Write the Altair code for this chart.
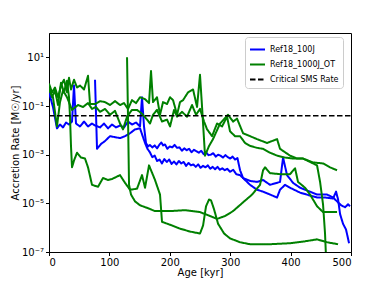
import altair as alt
import pandas as pd

# ---- data (age in kyr, log10 of accretion rate in Msun/yr) ----
b1_age = [0, 6.6, 13.2, 18.2, 23.2, 28.2, 33.1, 38.1, 41.4, 44.7, 51.3, 58, 64.6, 71.2, 76.2, 84.5, 91.1, 97.7,
          104.3, 111, 117.6, 124.2, 130.8, 137.4, 144.1, 150.7, 154, 157.3,
          160.6, 164, 167, 171, 175, 179, 183, 186, 189, 192, 196, 200, 204, 208, 212, 216, 220, 224, 228, 232,
          236, 240, 244, 248, 252, 256, 260, 264, 268, 272, 276, 280, 284, 288, 292, 296, 300, 304, 308, 312,
          316.3, 321.3, 332.9, 344.4, 354.4, 366, 382.5, 387.5, 394.1, 404.1, 415.7, 432.2, 443.8, 460.4, 470.3,
          476.9, 483.6, 490.2, 495.1, 498.4]
b1_log = [-0.44, -1.04, -1.92, -1.76, -1.88, -1.68, -1.76, -1.64, -0.16, -1.72, -1.84, -1.64, -1.84, -1.72, -1.8,
          -1.88, -1.72, -1.92, -1.76, -1.88, -1.8, -1.88, -1.64, -1.76, -1.68, -1.84, -0.64, -1.84,
          -2.52, -2.66, -2.6, -2.7, -2.62, -2.74, -2.58, -2.5, -2.62, -2.58, -2.76, -2.66, -2.7, -2.6, -2.72, -2.7,
          -2.84, -2.74, -2.82, -2.76, -2.9, -2.8, -2.86, -2.92, -2.84, -2.98, -2.9, -3.02, -3.0, -2.94, -3.08, -3.0,
          -3.04, -3.12, -3.02, -3.1, -3.16, -3.08, -3.2, -3.14,
          -3.64, -3.96, -4.08, -4.12, -4.04, -4.24, -4.12, -3.12, -3.84, -4.16, -4.36, -4.52, -4.64, -4.64, -4.76,
          -4.92, -5.08, -5.16, -5.04, -5.12]

b2_age = [76.2, 79.5, 86.1, 92.7, 101, 109.3, 117.6, 125.9, 134.1, 142.4, 150.7, 159,
          163, 167, 171, 175, 179, 183, 187, 191, 195, 199, 203, 207, 211, 215, 219, 223, 227, 231, 235, 239,
          243, 247, 251, 255, 259, 263, 267, 271, 275, 279, 283, 287, 291, 295, 299.7, 305, 310,
          316.3, 324.6, 332.9, 344.4, 354.4, 366, 377.6, 382.5, 390.8, 399.1, 415.7, 432.2, 443.8, 457, 470.3,
          475.3, 478.6, 481.9, 486.8, 491.8, 496.8]
b2_log = [0.08, -2.76, -2.56, -2.44, -2.24, -2.28, -2.32, -2.24, -2.12, -1.96, -1.92, -2.52,
          -2.76, -2.9, -3.1, -3.04, -3.26, -3.2, -3.36, -3.18, -3.3, -3.2, -3.38, -3.28, -3.4, -3.26, -3.36, -3.3,
          -3.46, -3.34, -3.44, -3.4, -3.5, -3.4, -3.54, -3.46, -3.52, -3.44, -3.58, -3.5, -3.6, -3.5, -3.62, -3.56,
          -3.64, -3.58, -3.7, -3.62, -3.8,
          -3.84, -4.04, -4.24, -4.44, -4.52, -4.64, -4.76, -4.44, -4.24, -4.36, -4.56, -4.68, -4.76, -4.76, -4.8,
          -4.52, -4.84, -5.44, -5.84, -6.08, -6.64]

g1_age = [0, 5, 9.9, 14.9, 19.9, 24.8, 29.8, 33.1, 36.4, 41.4, 46.4, 51.3, 58, 64.6, 67.9, 76.2, 84.5, 92.7, 101,
          109.3, 117.6, 124.2, 130.8, 137.4, 144.1, 150.7, 159, 165.6, 168.9, 172.2, 178.8, 183.8, 188.8, 195.4,
          200.4, 205.4, 212, 216.9, 221.9, 230.2, 238.5, 245.1, 250, 253.4, 258.3, 265, 271.6, 283.2, 296.4, 304.7,
          311.3, 321.3, 332.9, 344.4, 361, 377.6, 382.5, 399.1, 410.7, 420.6, 437.2, 453.7, 465.3, 476.9]
g1_log = [-0.08, -0.44, -0.24, -0.64, -0.16, 0.08, -0.44, 0.16, -0.32, 0.08, -0.24, -0.16, -0.32, 0.24, -0.92,
          -0.92, -0.8, -0.84, -0.96, -0.8, -0.96, -0.88, -1.12, -0.76, -0.88, -0.64, -0.72, -0.88, 0.44, -0.84,
          -0.64, -1.36, -0.84, -0.92, -0.64, -0.76, -1.36, -0.84, -0.76, -0.44, -0.32, -1.04, 0.28, -1.04, -3.04,
          -2.64, -2.36, -1.72, -1.36, -1.64, -1.52, -2.12, -2.24, -2.36, -2.52, -2.36, -2.76, -3.04, -3.16, -3.16,
          -3.32, -3.36, -3.52, -3.64]

g2_age = [0, 5, 9.9, 14.9, 19.9, 24.8, 29.8, 33.1, 34.8, 36.4, 38.1, 41.4, 46.4, 53, 59.6, 64.6, 71.2, 81.1, 89.4,
          97.7, 104.3, 117.6, 125.9, 134.1, 145.7, 154, 159, 165.6, 175.5, 183.8, 187.1, 200.4, 216.9, 233.5, 250,
          255, 260, 265, 268.3, 273.2, 279.9, 289.9, 299.7, 316.3, 332.9, 366, 399.1, 424, 443.8, 460.4, 478.6]
g2_log = [-0.24, -0.64, -0.36, -0.96, -0.04, -0.44, 0.04, -0.64, -1.44, -2.64, -3.52, -3.24, -2.92, -3.12, -3.16,
          -3.52, -4.24, -4.32, -3.96, -4.04, -4.0, -3.84, -4.16, -4.44, -4.4, -3.84, -4.36, -3.44, -4.04, -4.64,
          -5.76, -5.88, -6.04, -6.16, -6.24, -5.92, -5.12, -4.84, -4.88, -5.24, -5.84, -6.24, -6.44, -6.6, -6.68,
          -6.68, -6.64, -6.56, -6.48, -6.6, -6.68]

g3_age = [129.2, 130.8, 132.5, 135.8, 142.4, 150.7, 163.9, 175.5, 200.4, 225.2, 250, 266.6, 278.2, 291.5, 304.7,
          321.3, 336.2, 349.4, 354.4, 357.7, 366, 382.5, 399.1, 407.4, 412.3, 424, 432.2, 443.8, 453.7, 465.3, 476.9]
g3_log = [1.0, -1.44, -4.24, -4.64, -4.92, -5.08, -5.2, -5.32, -5.32, -5.28, -5.36, -5.52, -5.64, -5.52, -5.32,
          -4.96, -4.64, -4.24, -3.64, -3.52, -3.76, -3.8, -3.8, -3.56, -4.12, -4.36, -4.64, -5.12, -5.36, -5.36, -5.36]

g4_age = [0, 6.6, 13.2, 18.2, 23.2, 29.8, 38.1, 48, 56.3, 64.6, 71.2, 77.8, 84.5, 92.7, 101, 109.3, 117.6, 122.5,
          129.2, 137.4, 145.7, 154, 162.3, 167.3, 172.2, 178.8, 187.1, 195.4, 200.4, 207, 212, 220.3, 228.5, 236.8,
          243.5, 250, 256.7, 261.7, 270, 278.2, 286.5, 294.8, 299.7, 308, 316.3, 324.6, 332.9, 344.4, 354.4, 366,
          377.6, 390.8, 404.1, 420.6, 437.2, 443.8, 448.8, 453.7, 457, 458.7]
g4_log = [-0.32, -0.64, -1.84, -0.84, -0.36, -0.64, -1.16, -0.96, -1.04, -0.88, -1.12, -1.04, -1.24, -1.12, -1.36,
          -1.2, -1.72, -1.96, -1.44, -1.16, -1.16, -1.32, -1.56, -1.72, -1.36, -1.16, -1.64, -1.56, -1.84, -1.16,
          -1.44, -1.24, -1.44, -0.96, -1.36, -1.12, -1.64, -1.96, -2.24, -1.72, -1.84, -1.44, -2.04, -2.24, -2.24,
          -2.52, -2.64, -2.72, -2.76, -2.92, -3.04, -3.12, -3.16, -3.16, -3.36, -3.44, -4.12, -5.04, -6.24, -7.24]

critical_age = [0, 500]
critical_rate = [0.04, 0.04]

series_names = ["Ref18_100J", "Ref18_1000J_OT", "Critical SMS Rate"]
series_colors = ["#0000ff", "#008000", "#000000"]
x_ticks = [0, 100, 200, 300, 400, 500]
y_ticks = [1e-7, 1e-5, 1e-3, 1e-1, 1e1]

# ---- build table ----
rows = []
tracks = [
    ("Ref18_100J", "b1", b1_age, b1_log),
    ("Ref18_100J", "b2", b2_age, b2_log),
    ("Ref18_1000J_OT", "g1", g1_age, g1_log),
    ("Ref18_1000J_OT", "g2", g2_age, g2_log),
    ("Ref18_1000J_OT", "g3", g3_age, g3_log),
    ("Ref18_1000J_OT", "g4", g4_age, g4_log),
]
order = 0
for sim, tid, ages, logs in tracks:
    for a, l in zip(ages, logs):
        rows.append({"series": sim, "track": tid, "age": a, "rate": 10 ** l, "o": order})
        order += 1
for a, r in zip(critical_age, critical_rate):
    rows.append({"series": "Critical SMS Rate", "track": "crit", "age": a, "rate": r, "o": order})
    order += 1
df = pd.DataFrame(rows)

x_enc = alt.X("age:Q", scale=alt.Scale(domain=[0, 500], nice=False),
              axis=alt.Axis(values=x_ticks, title="Age [kyr]", titlePadding=0, labelPadding=1.5))
y_enc = alt.Y("rate:Q", scale=alt.Scale(type="log", domain=[1e-7, 1e2], nice=False),
              axis=alt.Axis(values=y_ticks, title="Accretion Rate [M☉/yr]", titlePadding=1,
                            labelExpr="datum.value < 1e-6 ? '10⁻⁷' : datum.value < 1e-4 ? '10⁻⁵' : "
                                      "datum.value < 1e-2 ? '10⁻³' : datum.value < 1 ? '10⁻¹' : '10¹'"))
color_enc = alt.Color("series:N", scale=alt.Scale(domain=series_names, range=series_colors),
                      legend=alt.Legend(title=None, orient="none", legendX=196, legendY=4,
                                        symbolType="stroke", symbolStrokeWidth=2, symbolSize=225,
                                        labelFontSize=8, labelFont="DejaVu Sans", rowPadding=2,
                                        padding=4, fillColor="white", strokeColor="#cccccc",
                                        cornerRadius=3, labelLimit=200))
dash_enc = alt.StrokeDash("series:N", scale=alt.Scale(domain=series_names,
                                                      range=[[1, 0], [1, 0], [5.5, 2.5]]),
                          legend=None)


def layer(name, width):
    return alt.Chart(df).transform_filter(alt.datum.series == name).mark_line(
        clip=True, strokeWidth=width, strokeJoin="round"
    ).encode(x=x_enc, y=y_enc, color=color_enc, strokeDash=dash_enc, detail="track:N", order="o:Q")


chart = alt.layer(
    layer("Ref18_100J", 2),
    layer("Ref18_1000J_OT", 2),
    layer("Critical SMS Rate", 1.6),
).properties(
    width=302, height=219,
    autosize=alt.AutoSizeParams(type="none"),
    padding={"left": 41, "top": 25, "right": 20, "bottom": 27},
).configure_view(
    stroke="black", strokeWidth=1
).configure_axis(
    labelFont="DejaVu Sans", titleFont="DejaVu Sans", labelFontSize=10, titleFontSize=10,
    titleFontWeight="normal", labelColor="black", titleColor="black", tickColor="black",
    domainColor="black", tickSize=3.5, labelPadding=2, grid=False
).configure_legend(
    labelColor="black"
)

chart.save("out.html", embed_options={"renderer": "svg", "actions": False})
